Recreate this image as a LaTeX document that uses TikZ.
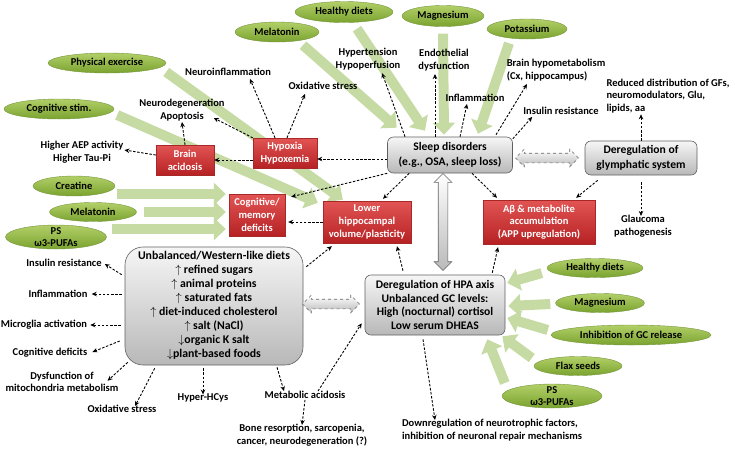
\documentclass[tikz,border=0pt]{standalone}
\usepackage{fontspec}
\setmainfont{Carlito}
\usetikzlibrary{arrows.meta,shapes.geometric,shapes.arrows}

\pgfdeclarelayer{bg}
\pgfsetlayers{bg,main}

\definecolor{armgreen}{RGB}{197,219,163}
\definecolor{elltop}{RGB}{178,207,104}
\definecolor{ellbot}{RGB}{122,163,48}
\definecolor{ellline}{RGB}{118,150,60}
\definecolor{redtop}{RGB}{226,84,84}
\definecolor{redbot}{RGB}{182,34,36}
\definecolor{redline}{RGB}{168,40,40}
\definecolor{graytop}{RGB}{246,246,246}
\definecolor{graybot}{RGB}{184,184,184}
\definecolor{grayline}{RGB}{96,96,96}

\begin{document}
\begin{tikzpicture}[x=1pt,y=-1pt,
    lbl/.style={font=\fontsize{10.5}{12.6}\selectfont\bfseries,align=center,inner sep=1pt},
    ell/.style={ellipse,draw=ellline,line width=0.4pt,top color=elltop,bottom color=ellbot,inner sep=0pt},
    elltxt/.style={font=\fontsize{10.5}{12}\selectfont\bfseries,align=center,inner sep=0pt},
    redb/.style={rectangle,draw=redline,top color=redtop,bottom color=redbot,text=white,
      font=\fontsize{10.5}{12.8}\selectfont\bfseries,align=center,inner sep=1pt},
    grayb/.style={rectangle,rounded corners=6pt,draw=grayline,line width=0.6pt,top color=graytop,
      bottom color=graybot,font=\fontsize{11.6}{14.5}\selectfont\bfseries,align=center,inner sep=1pt},
    dblarr/.style={double arrow,double arrow head extend=4pt,inner xsep=0pt,inner ysep=4.5pt,
      draw=gray!80!black,line width=0.6pt,top color=white,bottom color=gray!55},
    darr/.style={line width=0.9pt,dash pattern=on 2.5pt off 1.6pt,-{Stealth[length=5pt,width=4.5pt]}},
    garr/.style={draw=armgreen,line width=10pt,-{Triangle[length=12pt,width=22pt]}}]
  \useasboundingbox (0,0) rectangle (735,448);

  % Kaesten
  \node[grayb,minimum width=125pt,minimum height=36pt] (sleep) at (450,155) {Sleep disorders\\(e.g., OSA, sleep loss)};
  \node[grayb,minimum width=112pt,minimum height=34pt] (glym) at (641,158) {Deregulation of\\glymphatic system};
  \node[grayb,rounded corners=18pt,minimum width=178pt,minimum height=118pt,
    font=\fontsize{11.8}{14}\selectfont\bfseries] (diet) at (214,306)
    {Unbalanced/Western-like diets\\$\uparrow$ refined sugars\\$\uparrow$ animal proteins\\$\uparrow$ saturated fats\\
     $\uparrow$ diet-induced cholesterol\\$\uparrow$ salt (NaCl)\\$\downarrow$organic K salt\\$\downarrow$plant-based foods};
  \node[grayb,minimum width=140pt,minimum height=60pt,font=\fontsize{11.6}{13.6}\selectfont\bfseries] (hpa) at (435,305)
    {Deregulation of HPA axis\\Unbalanced GC levels:\\High (nocturnal) cortisol\\Low serum DHEAS};

  \node[redb,minimum width=64pt,minimum height=30pt] (hyp) at (285,153) {Hypoxia\\Hypoxemia};
  \node[redb,minimum width=58pt,minimum height=30pt] (acid) at (185,160) {Brain\\acidosis};
  \node[redb,minimum width=56pt,minimum height=42pt] (cog) at (257,215) {Cognitive/\\memory\\deficits};
  \node[redb,minimum width=88pt,minimum height=42pt] (hippo) at (367,222) {Lower\\hippocampal\\volume/plasticity};
  \node[redb,minimum width=112pt,minimum height=44pt] (abeta) at (539,222) {Aβ \& metabolite\\accumulation\\(APP upregulation)};

  % Ellipsen
  \node[ell,minimum width=98pt,minimum height=21pt,label={[elltxt]center:Healthy diets}] (hdA) at (344,12) {};
  \node[ell,minimum width=82pt,minimum height=21pt,label={[elltxt]center:Magnesium}] (mgA) at (443,16) {};
  \node[ell,minimum width=80pt,minimum height=20pt,label={[elltxt]center:Potassium}] (potA) at (527,29) {};
  \node[ell,minimum width=84pt,minimum height=20pt,label={[elltxt]center:Melatonin}] (melA) at (277,32) {};
  \node[ell,minimum width=118pt,minimum height=20pt,label={[elltxt]center:Physical exercise}] (phys) at (107,63) {};
  \node[ell,minimum width=110pt,minimum height=20pt,label={[elltxt]center:Cognitive stim.}] (cstim) at (59,109) {};
  \node[ell,minimum width=82pt,minimum height=20pt,label={[elltxt]center:Creatine}] (creat) at (74,186) {};
  \node[ell,minimum width=87pt,minimum height=19pt,label={[elltxt]center:Melatonin}] (melB) at (93,212) {};
  \node[ell,minimum width=101pt,minimum height=24pt,label={[elltxt]center:{PS\\ω3-PUFAs}}] (psA) at (56,237) {};
  \node[ell,minimum width=96pt,minimum height=19pt,label={[elltxt]center:Healthy diets}] (hdB) at (595,268) {};
  \node[ell,minimum width=89pt,minimum height=19pt,label={[elltxt]center:Magnesium}] (mgB) at (600,303) {};
  \node[ell,minimum width=160pt,minimum height=20pt,label={[elltxt]center:Inhibition of GC release}] (inh) at (631,335) {};
  \node[ell,minimum width=88pt,minimum height=19pt,label={[elltxt]center:Flax seeds}] (flax) at (578,366) {};
  \node[ell,minimum width=100pt,minimum height=24pt,label={[elltxt]center:{PS\\ω3-PUFAs}}] (psB) at (552,396) {};

  % Texte
  \node[lbl] (neuinf) at (228,72) {Neuroinflammation};
  \node[lbl] (oxA) at (323,86) {Oxidative stress};
  \node[lbl] (neudeg) at (182,110) {Neurodegeneration\\Apoptosis};
  \node[lbl] (hypert) at (368,59) {Hypertension\\Hypoperfusion};
  \node[lbl] (endo) at (444,60) {Endothelial\\dysfunction};
  \node[lbl] (inflA) at (475,98) {Inflammation};
  \node[lbl,align=left] (hypomet) at (556,70) {Brain hypometabolism\\(Cx, hippocampus)};
  \node[lbl] (insA) at (561,111) {Insulin resistance};
  \node[lbl,align=left] (reduced) at (668,96) {Reduced distribution of GFs,\\neuromodulators, Glu,\\lipids, aa};
  \node[lbl] (aep) at (82,152) {Higher AEP activity\\Higher Tau-Pi};
  \node[lbl] (glauc) at (643,226) {Glaucoma\\pathogenesis};
  \node[lbl] (insB) at (64,263) {Insulin resistance};
  \node[lbl] (inflB) at (58,294) {Inflammation};
  \node[lbl] (microg) at (44,325) {Microglia activation};
  \node[lbl] (cogdef) at (50,353) {Cognitive deficits};
  \node[lbl] (mito) at (62,382) {Dysfunction of\\mitochondria metabolism};
  \node[lbl] (oxB) at (122,409) {Oxidative stress};
  \node[lbl] (hcys) at (203,398) {Hyper-HCys};
  \node[lbl] (metac) at (305,395) {Metabolic acidosis};
  \node[lbl] (bone) at (302,435) {Bone resorption, sarcopenia,\\cancer, neurodegeneration (?)};
  \node[lbl,align=left] (downreg) at (492,430) {Downregulation of neurotrophic factors,\\inhibition of neuronal repair mechanisms};

  % Doppelpfeile
  \node[dblarr,dashed,minimum height=63pt] (sg) at (547,158) {};
  \node[dblarr,minimum height=97pt,rotate=90] (sh) at (443,222) {};
  \node[dblarr,dashed,minimum height=57pt] (dh) at (331,304) {};

  % gestrichelte Pfeile
  \draw[darr] ([xshift=-10pt]hyp.north) -- ([xshift=22pt,yshift=-2pt]neuinf.south);
  \draw[darr] ([xshift=2pt]hyp.north) -- ([xshift=-18pt,yshift=-3pt]oxA.south);
  \draw[darr] (hyp.north west) -- ([xshift=-12pt,yshift=4pt]neudeg.south east);
  \draw[darr] ([yshift=-7pt]hyp.west) -- (acid.east);
  \draw[darr] (acid.north) -- (neudeg.south);
  \draw[darr] ([yshift=5pt]acid.west) -- ([yshift=2pt]aep.east);
  \draw[darr] ([yshift=-4pt]sleep.west) -- ([yshift=-6pt]hyp.east);
  \draw[darr] (sleep.south west) -- ([xshift=6pt,yshift=-3pt]cog.north east);
  \draw[darr] ([xshift=22pt]sleep.south west) -- ([xshift=16pt,yshift=2pt]hippo.north);
  \draw[darr] ([xshift=22pt]sleep.south) -- ([xshift=-42pt,yshift=2pt]abeta.north);
  \draw[darr] ([xshift=-45pt]sleep.north) -- ([xshift=14pt,yshift=-2pt]hypert.south);
  \draw[darr] ([xshift=-15pt]sleep.north) -- ([xshift=-9pt,yshift=-2pt]endo.south);
  \draw[darr] ([xshift=10pt]sleep.north) -- ([xshift=-8pt,yshift=-1pt]inflA.south);
  \draw[darr] ([xshift=46pt,yshift=2pt]sleep.north) -- ([xshift=-29pt,yshift=-2pt]hypomet.south);
  \draw[darr] ([yshift=-2pt]sleep.north east) -- ([xshift=10pt,yshift=-1pt]insA.south west);
  \draw[darr] (glym.north) -- (glym.north |- reduced.south);
  \draw[darr] ([xshift=13pt,yshift=-5pt]glym.south west) -- ([xshift=-19pt,yshift=2pt]abeta.north east);
  \draw[darr,shorten <=7pt] (glym.south) -- ([yshift=-2pt]glym.south |- glauc.north);
  \draw[darr] ([xshift=-13pt,yshift=2pt]hpa.north east) -- ([xshift=-41pt,yshift=-3pt]abeta.south);
  \draw[darr] ([xshift=-32pt,yshift=4pt]hpa.north) -- ([xshift=30pt,yshift=-3pt]hippo.south);
  \draw[darr] ([xshift=-12pt,yshift=-4pt]hpa.south) -- ([xshift=-57pt,yshift=-2pt]downreg.north);
  \draw[darr] (hippo.west) -- ([yshift=-7pt,xshift=3pt]cog.east);
  \draw[darr] ([xshift=3pt,yshift=-20pt]diet.north east) -- ([xshift=9pt,yshift=-3pt]hippo.south west);
  \draw[darr] ([xshift=-3pt,yshift=-28pt]diet.north west) -- ([xshift=2pt,yshift=-1pt]insB.east);
  \draw[darr] ([xshift=-3pt]diet.west |- inflB.east) -- ([xshift=3pt]inflB.east);
  \draw[darr] ([xshift=-4pt]diet.west |- microg.east) -- ([xshift=2pt]microg.east);
  \draw[darr] ([xshift=-5pt,yshift=-35pt]diet.west) -- ([xshift=4pt,yshift=1pt]cogdef.east);
  \draw[darr] ([xshift=3pt,yshift=3pt]diet.south west) -- ([xshift=-12pt,yshift=-10pt]mito.north east);
  \draw[darr] ([xshift=30pt,yshift=-3pt]diet.south west) -- ([xshift=13pt,yshift=-2pt]oxB.north);
  \draw[darr] ([yshift=-3pt]hcys.north |- diet.south) -- ([yshift=-2pt]hcys.north);
  \draw[darr] ([xshift=63pt,yshift=-2pt]diet.south) -- ([xshift=-21pt,yshift=-1pt]metac.north);
  \draw[darr] ([xshift=13pt,yshift=-1pt]metac.north) -- ([xshift=-3pt,yshift=12pt]hpa.south west);
  \draw[darr] (metac.south) -- ([yshift=-2pt]bone.north);

  % gruene Pfeile (hinten)
  \begin{pgfonlayer}{bg}
    \draw[garr] ([xshift=26pt,yshift=-3pt]melA.south) -- ([xshift=9.5pt,yshift=9pt]sleep.north west);
    \draw[garr] ([xshift=13pt,yshift=-6pt]hdA.south) -- ([xshift=-25pt,yshift=6pt]sleep.north);
    \draw[garr] ([xshift=0pt,yshift=-7pt]mgA.south) -- ([xshift=-6pt,yshift=2pt]sleep.north);
    \draw[garr] ([xshift=-18pt,yshift=-4pt]potA.south) -- ([xshift=28pt,yshift=3pt]sleep.north);
    \draw[garr] ([yshift=-9pt]phys.east) -- ([xshift=20pt,yshift=1pt]hippo.north west);
    \draw[garr] ([xshift=3pt,yshift=-6pt]cstim.east) -- ([xshift=-5pt,yshift=-2pt]hippo.north west);
    \draw[garr] ([xshift=2pt,yshift=-8pt]creat.east) -- ([xshift=-3pt,yshift=21pt]cog.west);
    \draw[garr] ([xshift=7pt]melB.east) -- ([xshift=-3pt,yshift=3pt]cog.west);
    \draw[garr] ([xshift=5pt,yshift=8pt]psA.east) -- ([xshift=-3pt,yshift=-14pt]cog.west);
    \draw[garr] ([xshift=-5pt,yshift=-5pt]hdB.west) -- ([xshift=2pt,yshift=22pt]hpa.east);
    \draw[garr] ([xshift=-5pt,yshift=-1pt]mgB.west) -- ([xshift=3pt,yshift=-1pt]hpa.east);
    \draw[garr] ([xshift=-3pt,yshift=5pt]inh.west) -- ([xshift=2pt,yshift=-13pt]hpa.east);
    \draw[garr] ([xshift=-2pt,yshift=8pt]flax.west) -- ([xshift=-3pt,yshift=-1pt]hpa.south east);
    \draw[garr] ([xshift=3pt,yshift=13pt]psB.west) -- ([xshift=-18pt,yshift=-4pt]hpa.south east);
  \end{pgfonlayer}
\end{tikzpicture}
\end{document}
